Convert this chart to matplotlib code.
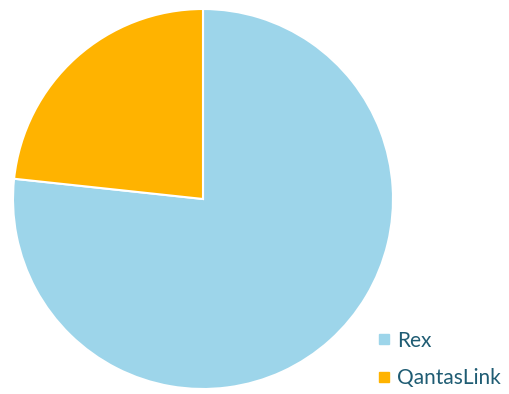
import matplotlib
matplotlib.use("Agg")
import matplotlib.pyplot as plt
from matplotlib.lines import Line2D

labels = ["Rex", "QantasLink"]
values = [76.7, 23.3]
colors = ["#9DD5EA", "#FFB300"]

plt.rcParams['font.family'] = ['Lato', 'DejaVu Sans']

fig = plt.figure(figsize=(5.09, 3.94), dpi=100)
ax = fig.add_axes([13/509, 5/394, 380/509, 380/394])
ax.pie(values, colors=colors, startangle=90, counterclock=False, radius=1,
       wedgeprops=dict(edgecolor="white", linewidth=1.5))
ax.set_xlim(-1, 1)
ax.set_ylim(-1, 1)
ax.set_aspect('equal')

handles = [Line2D([], [], marker='s', linestyle='none', markersize=7,
                  markerfacecolor=c, markeredgecolor=c) for c in colors]
leg = fig.legend(handles, labels, loc='lower left', bbox_to_anchor=(355/509, -13/394),
                 frameon=False, fontsize=15, handletextpad=0.1, labelspacing=0.84,
                 handlelength=1.0, labelcolor="#1F5C73")

fig.savefig("out.png", dpi=100)
